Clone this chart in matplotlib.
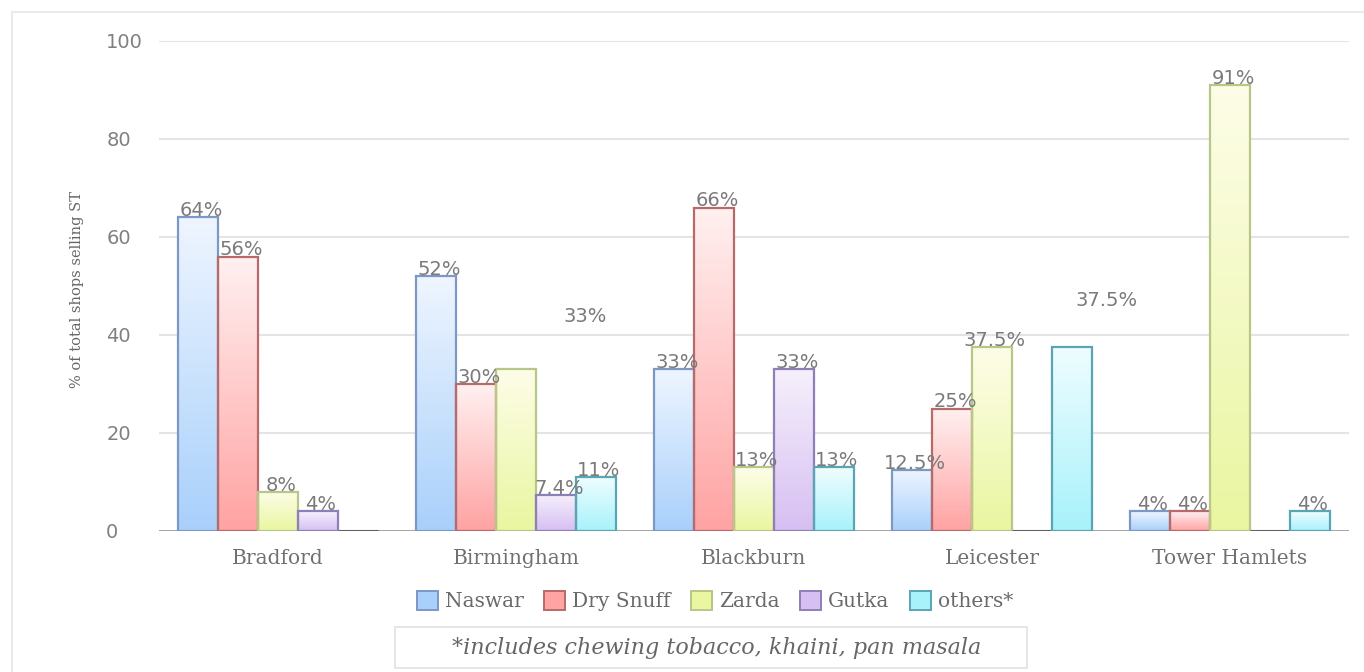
import matplotlib
matplotlib.use('Agg')
import matplotlib.pyplot as plt
import numpy as np
from matplotlib.patches import Patch, Rectangle
from matplotlib.colors import to_rgb

# data
cities = ['Bradford', 'Birmingham', 'Blackburn', 'Leicester', 'Tower Hamlets']
products = ['Naswar', 'Dry Snuff', 'Zarda', 'Gutka', 'others*']
naswar = [64, 52, 33, 12.5, 4]
dry_snuff = [56, 30, 66, 25, 4]
zarda = [8, 33, 13, 37.5, 91]
gutka = [4, 7.4, 33, 0, 0]
others = [0, 11, 13, 37.5, 4]
labels = [
    ['64%', '52%', '33%', '12.5%', '4%'],
    ['56%', '30%', '66%', '25%', '4%'],
    ['8%', '33%', '13%', '37.5%', '91%'],
    ['4%', '7.4%', '33%', '', ''],
    ['', '11%', '13%', '37.5%', '4%'],
]
series = [naswar, dry_snuff, zarda, gutka, others]

# styling: (top colour, bottom colour, edge colour)
styles = [
    ('#eef5ff', '#a9d0fb', '#7d98c4'),
    ('#fff0f0', '#ffa3a3', '#b86a6a'),
    ('#fdfde8', '#eaf6a0', '#b7c787'),
    ('#f6f0fc', '#d6bff2', '#8f7fb8'),
    ('#eefdff', '#a8f2fb', '#5aa5b5'),
]
# a couple of labels sit away from their bars in the original (pixels)
label_shift = {(2, 1): (69, 46), (4, 3): (35, 40)}

fig = plt.figure(figsize=(13.64, 6.72), dpi=100)
fig.patch.set_facecolor('white')

# faint outer frame
fig.add_artist(Rectangle((12 / 1364, -0.1), 1.2, 1 - 12 / 672 + 0.1,
                         transform=fig.transFigure, fill=False,
                         edgecolor='#e6e6e6', lw=1.2))

ax = fig.add_axes([159 / 1364, 1 - 531 / 672, 1190 / 1364, 490 / 672])

n = len(series)
width = 40 / 238
x = np.arange(len(cities))
grad = np.linspace(0, 1, 64).reshape(-1, 1)

for i, vals in enumerate(series):
    top, bot, edge = styles[i]
    c_top = np.array(to_rgb(top))
    c_bot = np.array(to_rgb(bot))
    img = (c_bot[None, None, :] * (1 - grad[:, :, None]) +
           c_top[None, None, :] * grad[:, :, None])
    xs = x + (i - (n - 1) / 2) * width
    for j, (xc, v) in enumerate(zip(xs, vals)):
        if v > 0:
            ax.imshow(img, extent=(xc - width / 2, xc + width / 2, 0, v),
                      aspect='auto', origin='lower', zorder=2,
                      interpolation='bilinear')
        ax.bar(xc, v, width, facecolor='none',
               edgecolor=edge if v > 0 else '#606060',
               lw=1.6 if v > 0 else 2.2, zorder=3)
        lab = labels[i][j]
        if lab:
            dx, dy = label_shift.get((i, j), (3, 0))
            ax.annotate(lab, (xc, v), xytext=(dx * 0.72, -2 + dy * 0.72),
                        textcoords='offset points', ha='center', va='bottom',
                        fontsize=14, color='#7a7a7a', family='DejaVu Sans',
                        zorder=4)

ax.set_xlim(-0.5, len(cities) - 0.5)
ax.set_ylim(0, 100)
ax.set_yticks([0, 20, 40, 60, 80, 100])
ax.yaxis.grid(True, color='#e4e4e4', lw=1.5)
ax.set_axisbelow(True)
for s in ax.spines.values():
    s.set_visible(False)
ax.axhline(0, color='#9a9a9a', lw=1.2, zorder=1)

ax.set_xticks(x)
ax.set_xticklabels(cities, family='DejaVu Serif', fontsize=14.5, color='#707070')
ax.tick_params(axis='x', length=0, pad=13)
ax.tick_params(axis='y', length=0, pad=38, labelsize=14, labelcolor='#808080')
for t in ax.get_yticklabels():
    t.set_ha('left')
    t.set_family('DejaVu Sans')

fig.text(77 / 1364, 1 - 290 / 672, '% of total shops selling ST', rotation=90,
         ha='center', va='center', family='DejaVu Serif', fontsize=10.5,
         color='#666666')

handles = [Patch(facecolor=s[1], edgecolor=s[2], lw=1.4) for s in styles]
fig.legend(handles, products, loc='center', bbox_to_anchor=(715 / 1364, 1 - 601 / 672),
           ncol=5, frameon=False, handlelength=1.05, handleheight=1.05,
           handletextpad=0.35, columnspacing=1.0,
           prop={'family': 'DejaVu Serif', 'size': 14.5}, labelcolor='#6a6a6a')

# footnote box
fig.add_artist(Rectangle((395 / 1364, 1 - 668 / 672), 632 / 1364, 41 / 672,
                         transform=fig.transFigure, fill=False,
                         edgecolor='#e2e2e2', lw=1.2))
fig.text(717 / 1364, 1 - 648 / 672, '*includes chewing tobacco, khaini, pan masala',
         ha='center', va='center', family='DejaVu Serif', style='italic',
         fontsize=16, color='#666666')

fig.savefig('out.png', dpi=100)
